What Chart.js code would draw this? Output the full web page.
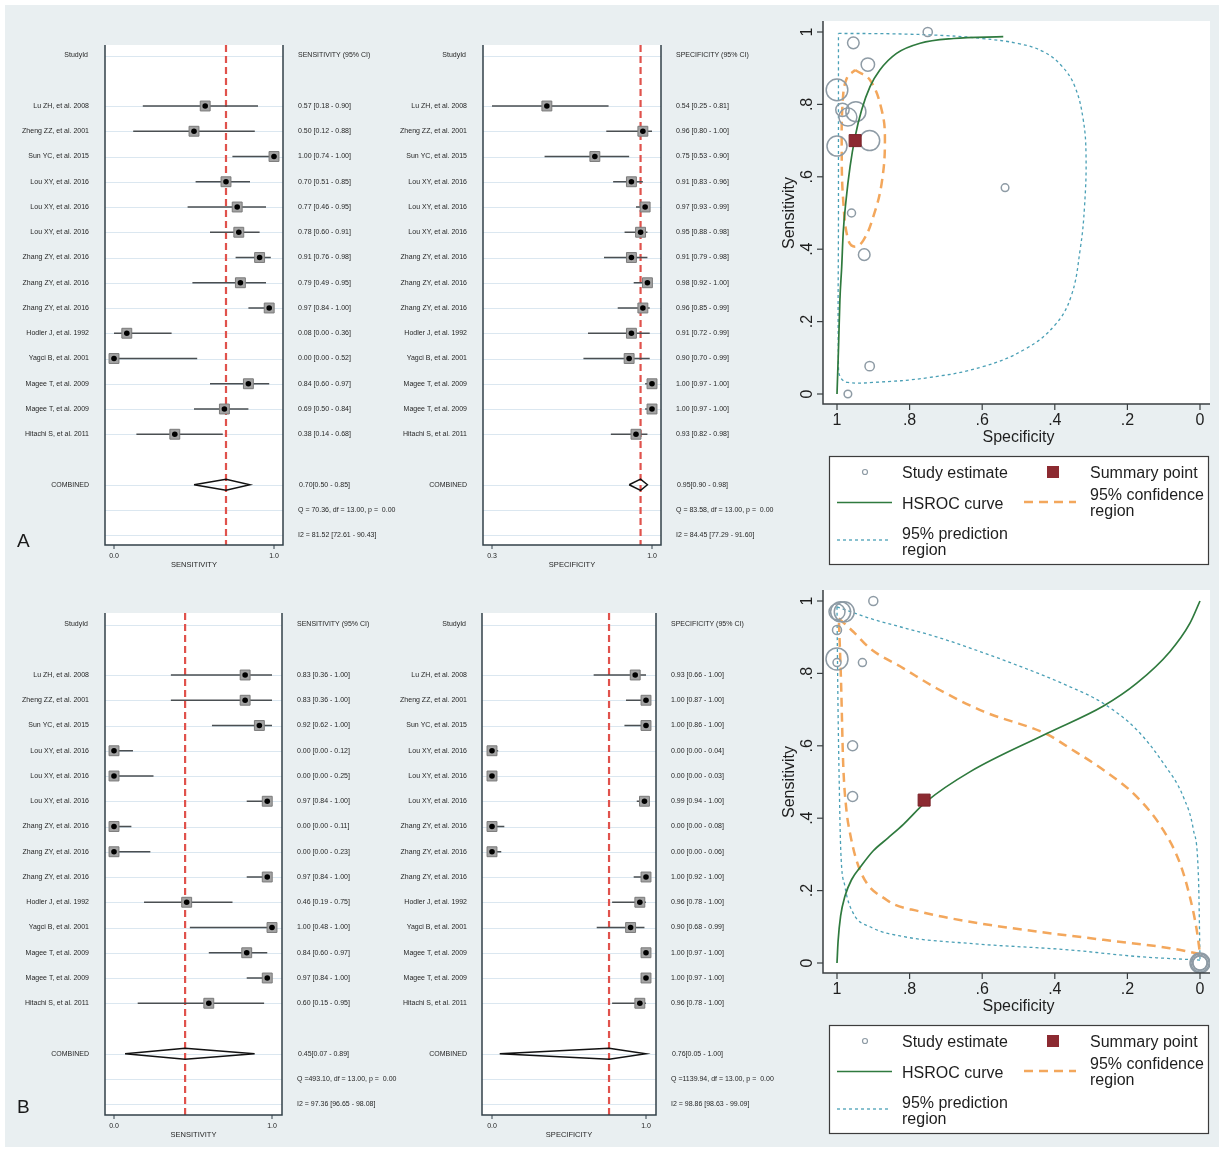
<!DOCTYPE html>
<html>
<head>
<meta charset="utf-8">
<script src="https://cdn.jsdelivr.net/npm/chart.js@4.4.1/dist/chart.umd.min.js"></script>
<style>
  html, body { margin: 0; padding: 0; background: #ffffff; }
  #page { position: relative; width: 1223px; height: 1150px; overflow: hidden; background: #ffffff; }
  #panel { position: absolute; left: 5px; top: 5px; width: 1214px; height: 1142px; background: #e9eff1; }
  canvas { position: absolute; left: 0; top: 0; }
</style>
</head>
<body>
<div id="page">
  <div id="panel"></div>
  <canvas id="sensA" width="1223" height="1150"></canvas>
  <canvas id="specA" width="1223" height="1150"></canvas>
  <canvas id="srocA" width="1223" height="1150"></canvas>
  <canvas id="sensB" width="1223" height="1150"></canvas>
  <canvas id="specB" width="1223" height="1150"></canvas>
  <canvas id="srocB" width="1223" height="1150"></canvas>
</div>
<script>
// ---------------- Study list ----------------
const studyNames = [
  "Lu ZH, et al. 2008", "Zheng ZZ, et al. 2001", "Sun YC, et al. 2015",
  "Lou XY, et al. 2016", "Lou XY, et al. 2016", "Lou XY, et al. 2016",
  "Zhang ZY, et al. 2016", "Zhang ZY, et al. 2016", "Zhang ZY, et al. 2016",
  "Hodler J, et al. 1992", "Yagci B, et al. 2001", "Magee T, et al. 2009",
  "Magee T, et al. 2009", "Hitachi S, et al. 2011"
];

// ---------------- Panel A: forest data ----------------
const sensA   = [0.57, 0.50, 1.00, 0.70, 0.77, 0.78, 0.91, 0.79, 0.97, 0.08, 0.00, 0.84, 0.69, 0.38];
const sensALo = [0.18, 0.12, 0.74, 0.51, 0.46, 0.60, 0.76, 0.49, 0.84, 0.00, 0.00, 0.60, 0.50, 0.14];
const sensAHi = [0.90, 0.88, 1.00, 0.85, 0.95, 0.91, 0.98, 0.95, 1.00, 0.36, 0.52, 0.97, 0.84, 0.68];
const specA   = [0.54, 0.96, 0.75, 0.91, 0.97, 0.95, 0.91, 0.98, 0.96, 0.91, 0.90, 1.00, 1.00, 0.93];
const specALo = [0.25, 0.80, 0.53, 0.83, 0.93, 0.88, 0.79, 0.92, 0.85, 0.72, 0.70, 0.97, 0.97, 0.82];
const specAHi = [0.81, 1.00, 0.90, 0.96, 0.99, 0.98, 0.98, 1.00, 0.99, 0.99, 0.99, 1.00, 1.00, 0.98];
const pooledSensA = [0.70, 0.50, 0.85];
const pooledSpecA = [0.95, 0.90, 0.98];
const hetSensA = ["Q = 70.36, df = 13.00, p =  0.00", "I2 = 81.52 [72.61 - 90.43]"];
const hetSpecA = ["Q = 83.58, df = 13.00, p =  0.00", "I2 = 84.45 [77.29 - 91.60]"];

// ---------------- Panel B: forest data ----------------
const sensB   = [0.83, 0.83, 0.92, 0.00, 0.00, 0.97, 0.00, 0.00, 0.97, 0.46, 1.00, 0.84, 0.97, 0.60];
const sensBLo = [0.36, 0.36, 0.62, 0.00, 0.00, 0.84, 0.00, 0.00, 0.84, 0.19, 0.48, 0.60, 0.84, 0.15];
const sensBHi = [1.00, 1.00, 1.00, 0.12, 0.25, 1.00, 0.11, 0.23, 1.00, 0.75, 1.00, 0.97, 1.00, 0.95];
const specB   = [0.93, 1.00, 1.00, 0.00, 0.00, 0.99, 0.00, 0.00, 1.00, 0.96, 0.90, 1.00, 1.00, 0.96];
const specBLo = [0.66, 0.87, 0.86, 0.00, 0.00, 0.94, 0.00, 0.00, 0.92, 0.78, 0.68, 0.97, 0.97, 0.78];
const specBHi = [1.00, 1.00, 1.00, 0.04, 0.03, 1.00, 0.08, 0.06, 1.00, 1.00, 0.99, 1.00, 1.00, 1.00];
const pooledSensB = [0.45, 0.07, 0.89];
const pooledSpecB = [0.76, 0.05, 1.00];
const hetSensB = ["Q =493.10, df = 13.00, p =  0.00", "I2 = 97.36 [96.65 - 98.08]"];
const hetSpecB = ["Q =1139.94, df = 13.00, p =  0.00", "I2 = 98.86 [98.63 - 99.09]"];

// forest x-axis ticks
const unitTicks = [0, 1];
const unitTickLabels = ["0.0", "1.0"];
const specATicks = [0.3, 1.0];
const specATickLabels = ["0.3", "1.0"];

// ---------------- SROC data (specificity, sensitivity, marker weight) ----------------
const srocSpecA = [0.537, 0.96, 0.75, 0.91, 0.97, 0.948, 0.915, 0.985, 0.955, 0.91, 0.97, 1.00, 1.00, 0.925];
const srocSensA = [0.57, 0.50, 1.00, 0.70, 0.765, 0.78, 0.91, 0.785, 0.97, 0.077, 0.00, 0.84, 0.685, 0.385];
const srocWeightA = [3.8, 4, 4.6, 10, 9, 10, 6.7, 6.7, 5.8, 4.7, 3.8, 10.8, 10, 5.8];
const summaryA = [0.95, 0.70]; // [specificity, sensitivity]
const hsrocA = [
  [1.0, 0.0], [0.996, 0.122], [0.992, 0.260], [0.987, 0.352], [0.983, 0.444], [0.975, 0.536],
  [0.964, 0.628], [0.950, 0.711], [0.932, 0.785], [0.909, 0.849], [0.882, 0.895], [0.836, 0.941],
  [0.771, 0.969], [0.679, 0.982], [0.542, 0.987]
];
const confA = [
  [0.950, 0.895], [0.909, 0.867], [0.877, 0.785], [0.868, 0.702], [0.877, 0.582], [0.900, 0.490],
  [0.927, 0.425], [0.950, 0.407], [0.969, 0.425], [0.983, 0.536], [0.987, 0.674], [0.984, 0.812],
  [0.973, 0.872], [0.950, 0.895]
];
const predA = [
  [0.996, 0.996], [0.85, 0.995], [0.70, 0.990], [0.60, 0.982], [0.50, 0.968], [0.43, 0.945],
  [0.38, 0.905], [0.345, 0.85], [0.322, 0.76], [0.314, 0.66], [0.318, 0.52], [0.33, 0.40],
  [0.355, 0.27], [0.40, 0.19], [0.48, 0.125], [0.60, 0.075], [0.75, 0.045], [0.90, 0.032],
  [0.97, 0.032], [0.99, 0.045], [0.996, 0.08], [0.996, 0.5], [0.996, 0.996]
];

const srocSpecB = [0.93, 1.00, 1.00, 0.00, 0.00, 0.99, 0.00, 0.00, 1.00, 0.957, 0.90, 1.00, 0.98, 0.957];
const srocSensB = [0.83, 0.83, 0.92, 0.00, 0.00, 0.97, 0.00, 0.00, 0.97, 0.46, 1.00, 0.84, 0.97, 0.60];
const srocWeightB = [4, 4, 4.5, 10, 7.5, 10, 9, 7, 8, 5, 4.5, 11, 10, 5];
const summaryB = [0.76, 0.45];
const hsrocB = [
  [1.0, 0.0], [0.997, 0.06], [0.99, 0.13], [0.978, 0.185], [0.96, 0.23], [0.932, 0.27],
  [0.90, 0.31], [0.86, 0.345], [0.817, 0.383], [0.755, 0.445], [0.634, 0.528], [0.422, 0.634],
  [0.266, 0.710], [0.174, 0.773], [0.083, 0.860], [0.028, 0.938], [0.0, 1.0]
];
// B regions are traced as two branches each (upper-right and lower-left boundary)
const confBOuter = [
  [0.995, 0.952], [0.955, 0.915], [0.909, 0.869], [0.817, 0.814], [0.726, 0.759], [0.597, 0.695],
  [0.422, 0.632], [0.358, 0.593], [0.266, 0.533], [0.174, 0.459], [0.101, 0.367], [0.055, 0.275],
  [0.028, 0.183], [0.009, 0.091], [0.0, 0.025]
];
const confBInner = [
  [0.0, 0.025], [0.083, 0.041], [0.266, 0.064], [0.45, 0.087], [0.634, 0.114], [0.771, 0.142],
  [0.863, 0.174], [0.937, 0.257], [0.964, 0.358], [0.975, 0.432], [0.983, 0.552], [0.989, 0.782],
  [0.995, 0.952]
];
const predBOuter = [
  [1.0, 0.984], [0.909, 0.952], [0.726, 0.901], [0.542, 0.837], [0.358, 0.763], [0.266, 0.717],
  [0.174, 0.644], [0.101, 0.552], [0.046, 0.459], [0.018, 0.367], [0.004, 0.229], [0.0, 0.008]
];
const predBInner = [
  [0.0, 0.008], [0.174, 0.018], [0.358, 0.036], [0.634, 0.054], [0.817, 0.073], [0.909, 0.100],
  [0.955, 0.137], [0.978, 0.211], [0.990, 0.321], [0.994, 0.506], [0.997, 0.690], [0.999, 0.874],
  [1.0, 0.984]
];

const srocTicks = [1, 0.8, 0.6, 0.4, 0.2, 0];
const srocTickLabels = ["1", ".8", ".6", ".4", ".2", "0"];

// ---------------- helpers ----------------
const FONT = '"Liberation Sans", Arial, Helvetica, sans-serif';
const fmt = v => v.toFixed(2);

// axis limits so that two known values land on given pixels and the area spans [a0, a1]
function scaleRange(a0, a1, p0, v0, p1, v1) {
  const k = (v1 - v0) / (p1 - p0);
  const e0 = v0 + (a0 - p0) * k, e1 = v0 + (a1 - p0) * k;
  return { min: Math.min(e0, e1), max: Math.max(e0, e1) };
}

function strokeLine(ctx, x0, y0, x1, y1) {
  ctx.beginPath(); ctx.moveTo(x0, y0); ctx.lineTo(x1, y1); ctx.stroke();
}

// ---------------- forest plot decoration ----------------
const forestDeco = {
  id: 'forestDeco',
  beforeDatasetsDraw(chart, args, o) {
    const { ctx, chartArea: a, scales: { y } } = chart;
    ctx.save();
    ctx.fillStyle = '#ffffff';
    ctx.fillRect(a.left, a.top, a.right - a.left, a.bottom - a.top);
    ctx.strokeStyle = '#dbe7f0';
    ctx.lineWidth = 1;
    o.gridRows.forEach(r => {
      const py = Math.round(y.getPixelForValue(r)) + 0.5;
      strokeLine(ctx, a.left, py, a.right, py);
    });
    ctx.restore();
  },
  afterDatasetsDraw(chart, args, o) {
    const { ctx, chartArea: a, scales: { x, y } } = chart;
    ctx.save();
    // frame: left, right, bottom
    ctx.strokeStyle = '#33414a';
    ctx.lineWidth = 1.5;
    ctx.beginPath();
    ctx.moveTo(a.left, a.top); ctx.lineTo(a.left, a.bottom); ctx.lineTo(a.right, a.bottom); ctx.lineTo(a.right, a.top);
    ctx.stroke();
    // ticks
    ctx.lineWidth = 1;
    ctx.fillStyle = '#262626';
    ctx.font = '7px ' + FONT;
    ctx.textAlign = 'center';
    ctx.textBaseline = 'middle';
    o.ticks.forEach((t, i) => {
      const px = x.getPixelForValue(t);
      strokeLine(ctx, px, a.bottom, px, a.bottom + 4);
      ctx.fillText(o.tickLabels[i], px, a.bottom + 11.5);
    });
    ctx.font = '7.5px ' + FONT;
    ctx.fillText(o.title, (a.left + a.right) / 2, a.bottom + 20);

    // left column: study names
    ctx.font = '7px ' + FONT;
    ctx.textAlign = 'right';
    ctx.fillText('StudyId', o.labelX - 1, y.getPixelForValue(0));
    o.names.forEach((n, i) => ctx.fillText(n, o.labelX, y.getPixelForValue(i + 2)));
    ctx.fillText('COMBINED', o.labelX, y.getPixelForValue(17));

    // right column: estimates with 95% CI
    ctx.textAlign = 'left';
    ctx.fillText(o.header, o.valueX, y.getPixelForValue(0));
    o.est.forEach((e, i) => {
      ctx.fillText(fmt(e) + ' [' + fmt(o.lo[i]) + ' - ' + fmt(o.hi[i]) + ']', o.valueX, y.getPixelForValue(i + 2));
    });
    const p = o.pooled;
    ctx.fillText(fmt(p[0]) + '[' + fmt(p[1]) + ' - ' + fmt(p[2]) + ']', o.valueX + 1, y.getPixelForValue(17));
    ctx.fillText(o.het[0], o.valueX, y.getPixelForValue(18));
    ctx.fillText(o.het[1], o.valueX, y.getPixelForValue(19));

    if (o.panelLetter) {
      ctx.font = '19px ' + FONT;
      ctx.textBaseline = 'alphabetic';
      ctx.fillStyle = '#1a1a1a';
      ctx.fillText(o.panelLetter[0], o.panelLetter[1], o.panelLetter[2]);
    }
    ctx.restore();
  }
};

function forestChart(id, P) {
  const rows = P.est.map((_, i) => i + 2);
  const xr = scaleRange(P.area.l, P.area.r, P.tickPx[0], P.ticks[0], P.tickPx[1], P.ticks[1]);
  const yr = scaleRange(P.area.t, P.area.b, P.row0Px, 0, P.row0Px + 25.25, 1);
  const ciData = [];
  P.est.forEach((e, i) => {
    ciData.push({ x: P.lo[i], y: rows[i] }, { x: P.hi[i], y: rows[i] }, { x: e, y: null });
  });
  const pts = P.est.map((e, i) => ({ x: e, y: rows[i] }));
  const [pe, pl, ph] = P.pooled;
  const h = 0.22;
  const diamond = [{ x: pl, y: 17 }, { x: pe, y: 17 - h }, { x: ph, y: 17 }, { x: pe, y: 17 + h }, { x: pl, y: 17 }];
  const summaryLine = [{ x: pe, y: yr.min }, { x: pe, y: yr.max }];

  return new Chart(document.getElementById(id), {
    type: 'scatter',
    data: {
      datasets: [
        { data: pts, pointStyle: 'circle', pointRadius: 2.8, pointBackgroundColor: '#000', pointBorderColor: '#000', pointBorderWidth: 0 },
        { data: pts, pointStyle: 'rect', pointRadius: 7, pointBackgroundColor: '#a3a3a3', pointBorderColor: '#7a7a7a', pointBorderWidth: 1 },
        { data: diamond, showLine: true, borderColor: '#111', borderWidth: 1.4, pointRadius: 0, tension: 0 },
        { data: ciData, showLine: true, spanGaps: false, borderColor: '#4a4f52', borderWidth: 1.3, pointRadius: 0,
          clip: { left: P.clipLeft || 0, right: 0, top: 0, bottom: 0 } },
        { data: summaryLine, showLine: true, borderColor: '#e0524c', borderWidth: 2.2, borderDash: [7, 4], pointRadius: 0 }
      ]
    },
    options: {
      responsive: false, animation: false, events: [],
      layout: { padding: { left: P.area.l, top: P.area.t, right: 1223 - P.area.r, bottom: 1150 - P.area.b } },
      scales: {
        x: { type: 'linear', display: false, min: xr.min, max: xr.max },
        y: { type: 'linear', display: false, min: yr.min, max: yr.max, reverse: true }
      },
      plugins: {
        legend: { display: false }, tooltip: { enabled: false },
        forestDeco: {
          gridRows: [0, 2, 3, 4, 5, 6, 7, 8, 9, 10, 11, 12, 13, 14, 15, 17, 18, 19],
          ticks: P.ticks, tickLabels: P.tickLabels, title: P.title, header: P.header,
          names: studyNames, est: P.est, lo: P.lo, hi: P.hi, pooled: P.pooled, het: P.het,
          labelX: P.labelX, valueX: P.valueX, panelLetter: P.panelLetter
        }
      }
    },
    plugins: [forestDeco]
  });
}

// ---------------- SROC decoration ----------------
const srocDeco = {
  id: 'srocDeco',
  beforeDatasetsDraw(chart) {
    const { ctx, chartArea: a } = chart;
    ctx.save();
    ctx.fillStyle = '#ffffff';
    ctx.fillRect(a.left, a.top, a.right - a.left, a.bottom - a.top);
    ctx.restore();
  },
  afterDraw(chart, args, o) {
    const { ctx, chartArea: a, scales: { x, y } } = chart;
    ctx.save();
    ctx.strokeStyle = '#3a3f42';
    ctx.lineWidth = 1.5;
    ctx.beginPath();
    ctx.moveTo(a.left, a.top); ctx.lineTo(a.left, a.bottom); ctx.lineTo(a.right, a.bottom);
    ctx.stroke();
    ctx.lineWidth = 1.2;
    ctx.fillStyle = '#1e1e1e';
    ctx.font = '16px ' + FONT;
    ctx.textAlign = 'center';
    ctx.textBaseline = 'alphabetic';
    o.ticks.forEach((t, i) => {
      const px = x.getPixelForValue(t);
      strokeLine(ctx, px, a.bottom, px, a.bottom + 6);
      ctx.fillText(o.tickLabels[i], px, a.bottom + 21);
      const py = y.getPixelForValue(t);
      strokeLine(ctx, a.left - 6, py, a.left, py);
      ctx.save();
      ctx.translate(a.left - 11, py);
      ctx.rotate(-Math.PI / 2);
      ctx.fillText(o.tickLabels[i], 0, 0);
      ctx.restore();
    });
    ctx.fillText('Specificity', (a.left + a.right) / 2 + 2, a.bottom + 38);
    ctx.save();
    ctx.translate(a.left - 29, (y.getPixelForValue(0) + y.getPixelForValue(1)) / 2);
    ctx.rotate(-Math.PI / 2);
    ctx.fillText('Sensitivity', 0, 0);
    ctx.restore();

    // legend box
    const L = o.legend;
    ctx.fillStyle = '#ffffff';
    ctx.fillRect(L.x, L.y, L.w, L.h);
    ctx.strokeStyle = '#3c3c3c';
    ctx.lineWidth = 1.2;
    ctx.strokeRect(L.x + 0.5, L.y + 0.5, L.w, L.h);
    const t = L.y;
    // study estimate
    ctx.strokeStyle = '#8e9ba5'; ctx.lineWidth = 1.2;
    ctx.beginPath(); ctx.arc(L.x + 36, t + 16, 2.5, 0, Math.PI * 2); ctx.stroke();
    // summary point
    ctx.fillStyle = '#8c2a31';
    ctx.fillRect(L.x + 218, t + 10, 12, 12);
    // HSROC curve
    ctx.strokeStyle = '#2f7a3e'; ctx.lineWidth = 1.6;
    strokeLine(ctx, L.x + 8, t + 46.5, L.x + 63, t + 46.5);
    // confidence region
    ctx.strokeStyle = '#f3a75c'; ctx.lineWidth = 2.5; ctx.setLineDash([9, 6]);
    strokeLine(ctx, L.x + 195, t + 46, L.x + 247, t + 46);
    // prediction region
    ctx.strokeStyle = '#4ba0b6'; ctx.lineWidth = 1.3; ctx.setLineDash([3, 3]);
    strokeLine(ctx, L.x + 8, t + 84, L.x + 62, t + 84);
    ctx.setLineDash([]);

    ctx.fillStyle = '#1e1e1e';
    ctx.font = '16px ' + FONT;
    ctx.textAlign = 'left';
    ctx.fillText('Study estimate', L.x + 73, t + 22);
    ctx.fillText('Summary point', L.x + 261, t + 22);
    ctx.fillText('HSROC curve', L.x + 73, t + 52.5);
    ctx.fillText('95% confidence', L.x + 261, t + 44);
    ctx.fillText('region', L.x + 261, t + 60);
    ctx.fillText('95% prediction', L.x + 73, t + 83);
    ctx.fillText('region', L.x + 73, t + 99);
    ctx.restore();
  }
};

function srocChart(id, P) {
  const xr = scaleRange(823, 1210, 837, 1, 1200, 0);
  const yr = scaleRange(P.top, P.top + 383, P.top + 11, 1, P.top + 373, 0);
  const toXY = arr => arr.map(p => ({ x: p[0], y: p[1] }));
  const studies = P.spec.map((s, i) => ({ x: s, y: P.sens[i] }));
  // smoothing: closed loops use bezier tension, single-valued branches use monotone cubic
  const curve = mode => mode === 'monotone' ? { cubicInterpolationMode: 'monotone' } : { tension: 0.4 };
  const confSets = P.conf.map(c => Object.assign({
    data: toXY(c), showLine: true, borderColor: '#f3a75c', borderWidth: 2.5,
    borderDash: [9, 6], pointRadius: 0 }, curve(P.regionMode)));
  const predSets = P.pred.map(c => Object.assign({
    data: toXY(c), showLine: true, borderColor: '#4ba0b6', borderWidth: 1.3,
    borderDash: [3, 3], pointRadius: 0 }, curve(P.regionMode)));
  return new Chart(document.getElementById(id), {
    type: 'scatter',
    data: {
      datasets: [
        { label: 'Summary point', data: [{ x: P.summary[0], y: P.summary[1] }], pointStyle: 'rect', pointRadius: 8.5,
          pointBackgroundColor: '#8c2a31', pointBorderColor: '#7a2228', pointBorderWidth: 1 },
        { label: 'HSROC curve', data: toXY(P.hsroc), showLine: true, borderColor: '#2f7a3e', borderWidth: 1.7,
          pointRadius: 0, cubicInterpolationMode: 'monotone' },
        { label: 'Study estimate', data: studies, pointStyle: 'circle',
          pointRadius: c => P.weight[c.dataIndex], pointBackgroundColor: 'rgba(0,0,0,0)',
          pointBorderColor: '#8e9ba5', pointBorderWidth: 1.5 },
        ...confSets,
        ...predSets
      ]
    },
    options: {
      responsive: false, animation: false, events: [],
      layout: { padding: { left: 823, right: 1223 - 1210, top: P.top, bottom: 1150 - (P.top + 383) } },
      scales: {
        x: { type: 'linear', display: false, min: xr.min, max: xr.max, reverse: true },
        y: { type: 'linear', display: false, min: yr.min, max: yr.max }
      },
      plugins: {
        legend: { display: false }, tooltip: { enabled: false },
        srocDeco: { ticks: srocTicks, tickLabels: srocTickLabels, legend: { x: 829, y: P.legendTop, w: 379, h: 108 } }
      }
    },
    plugins: [srocDeco]
  });
}

// ---------------- build the six panels ----------------
forestChart('sensA', {
  est: sensA, lo: sensALo, hi: sensAHi, pooled: pooledSensA, het: hetSensA,
  ticks: unitTicks, tickLabels: unitTickLabels, title: 'SENSITIVITY', header: 'SENSITIVITY (95% CI)',
  area: { l: 105, r: 283, t: 45, b: 545 }, tickPx: [114, 274], row0Px: 55.5,
  labelX: 89, valueX: 298, panelLetter: ['A', 17, 547]
});
forestChart('specA', {
  est: specA, lo: specALo, hi: specAHi, pooled: pooledSpecA, het: hetSpecA,
  ticks: specATicks, tickLabels: specATickLabels, title: 'SPECIFICITY', header: 'SPECIFICITY (95% CI)',
  area: { l: 483, r: 661, t: 45, b: 545 }, tickPx: [492, 652], row0Px: 55.5,
  labelX: 467, valueX: 676, clipLeft: -9
});
forestChart('sensB', {
  est: sensB, lo: sensBLo, hi: sensBHi, pooled: pooledSensB, het: hetSensB,
  ticks: unitTicks, tickLabels: unitTickLabels, title: 'SENSITIVITY', header: 'SENSITIVITY (95% CI)',
  area: { l: 105, r: 282, t: 613, b: 1115 }, tickPx: [114, 272], row0Px: 624.5,
  labelX: 89, valueX: 297, panelLetter: ['B', 17, 1113]
});
forestChart('specB', {
  est: specB, lo: specBLo, hi: specBHi, pooled: pooledSpecB, het: hetSpecB,
  ticks: unitTicks, tickLabels: unitTickLabels, title: 'SPECIFICITY', header: 'SPECIFICITY (95% CI)',
  area: { l: 482, r: 656, t: 613, b: 1115 }, tickPx: [492, 646], row0Px: 624.5,
  labelX: 467, valueX: 671
});
srocChart('srocA', {
  spec: srocSpecA, sens: srocSensA, weight: srocWeightA, summary: summaryA,
  hsroc: hsrocA, conf: [confA], pred: [predA], regionMode: 'tension', top: 21, legendTop: 456
});
srocChart('srocB', {
  spec: srocSpecB, sens: srocSensB, weight: srocWeightB, summary: summaryB,
  hsroc: hsrocB, conf: [confBOuter, confBInner], pred: [predBOuter, predBInner], regionMode: 'monotone',
  top: 590, legendTop: 1025
});
</script>
</body>
</html>
